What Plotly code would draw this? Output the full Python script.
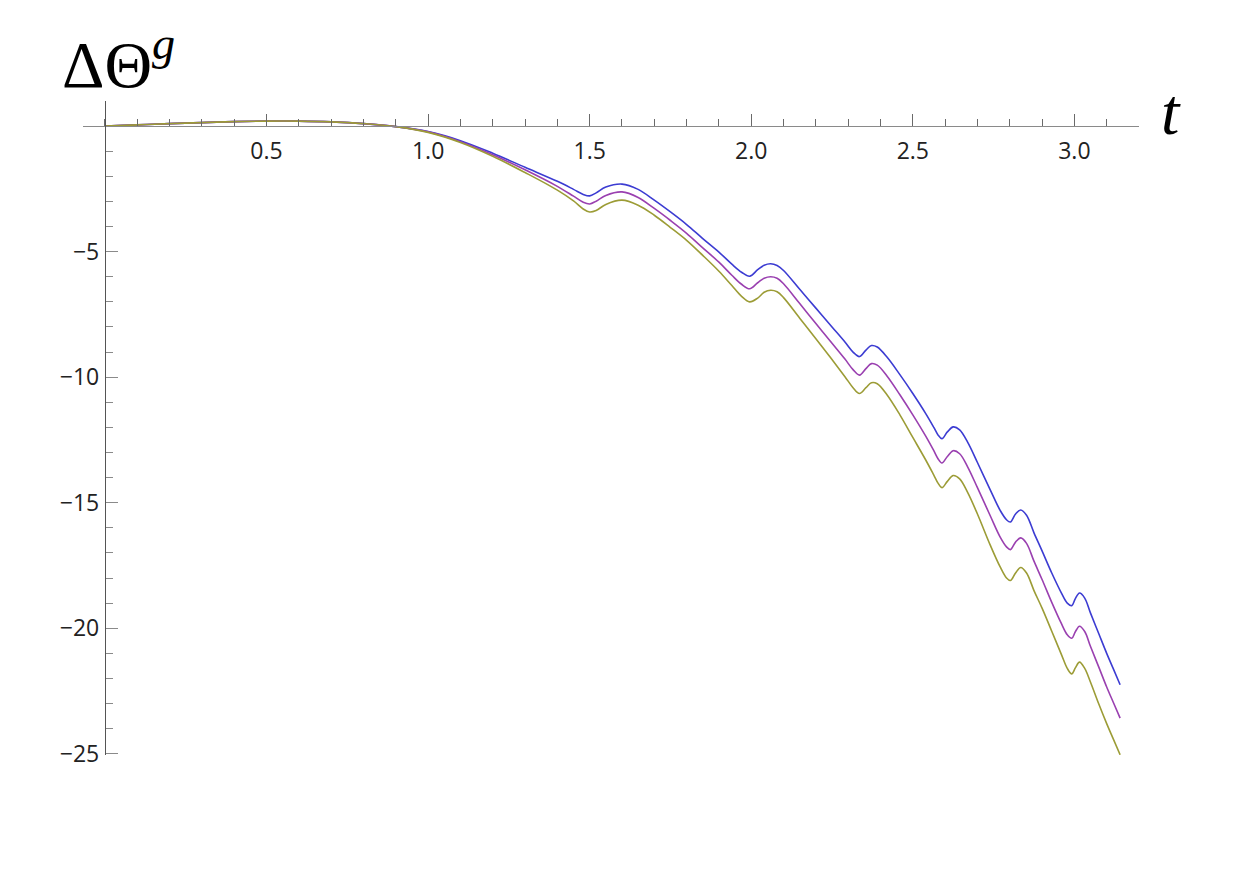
import plotly.graph_objects as go

# sample points (t, Delta Theta^g)
t = [0, 0.1, 0.2, 0.3, 0.4, 0.5, 0.6, 0.7, 0.8, 0.9,
     1.0, 1.1, 1.2, 1.3, 1.4, 1.45, 1.48, 1.5, 1.52, 1.55,
     1.6, 1.65, 1.7, 1.75, 1.8, 1.85, 1.9, 1.94, 1.97, 1.995,
     2.02, 2.04, 2.06, 2.08, 2.1, 2.15, 2.2, 2.25, 2.29, 2.315,
     2.335, 2.355, 2.372, 2.39, 2.42, 2.46, 2.5, 2.54, 2.565, 2.578,
     2.59, 2.607, 2.625, 2.645, 2.67, 2.7, 2.74, 2.77, 2.79, 2.802,
     2.818, 2.834, 2.852, 2.875, 2.9, 2.93, 2.96, 2.978, 2.992, 3.003,
     3.016, 3.032, 3.05, 3.075, 3.1, 3.12, 3.1416]

blue = [0, 0.05, 0.1, 0.14, 0.18, 0.2, 0.2, 0.17, 0.1, -0.02,
        -0.22, -0.58, -1.08, -1.64, -2.2, -2.52, -2.72, -2.78, -2.66, -2.43,
        -2.31, -2.52, -2.95, -3.42, -3.92, -4.48, -5.02, -5.5, -5.82, -5.98,
        -5.72, -5.54, -5.48, -5.55, -5.75, -6.5, -7.25, -8.0, -8.6, -9.0,
        -9.18, -8.92, -8.74, -8.8, -9.2, -9.9, -10.65, -11.45, -12.0, -12.3,
        -12.45, -12.18, -11.98, -12.1, -12.6, -13.4, -14.5, -15.3, -15.68, -15.77,
        -15.45, -15.29, -15.5, -16.2, -16.92, -17.8, -18.6, -19.0, -19.1, -18.82,
        -18.6, -18.8, -19.4, -20.2, -21.0, -21.6, -22.25]

purple = [0, 0.05, 0.1, 0.14, 0.18, 0.2, 0.2, 0.17, 0.1, -0.02,
          -0.23, -0.62, -1.14, -1.74, -2.4, -2.79, -3.03, -3.1, -2.99, -2.76,
          -2.62, -2.84, -3.28, -3.76, -4.27, -4.85, -5.42, -5.94, -6.3, -6.48,
          -6.24, -6.06, -6.0, -6.06, -6.28, -7.07, -7.86, -8.65, -9.28, -9.7,
          -9.92, -9.66, -9.46, -9.52, -9.95, -10.7, -11.5, -12.35, -12.93, -13.25,
          -13.42, -13.16, -12.93, -13.05, -13.58, -14.4, -15.53, -16.36, -16.76, -16.87,
          -16.57, -16.4, -16.62, -17.33, -18.06, -18.97, -19.82, -20.26, -20.4, -20.14,
          -19.92, -20.13, -20.73, -21.53, -22.34, -22.94, -23.58]

olive = [0, 0.05, 0.1, 0.14, 0.18, 0.2, 0.2, 0.17, 0.1, -0.02,
         -0.25, -0.65, -1.2, -1.85, -2.55, -2.98, -3.3, -3.42, -3.36, -3.12,
         -2.95, -3.15, -3.55, -4.04, -4.55, -5.15, -5.78, -6.35, -6.78, -7.0,
         -6.85, -6.62, -6.54, -6.6, -6.83, -7.65, -8.47, -9.3, -9.98, -10.42,
         -10.65, -10.42, -10.22, -10.26, -10.7, -11.5, -12.4, -13.3, -13.9, -14.22,
         -14.4, -14.15, -13.92, -14.05, -14.6, -15.45, -16.7, -17.55, -18.0, -18.1,
         -17.8, -17.58, -17.8, -18.5, -19.2, -20.12, -21.05, -21.6, -21.82, -21.58,
         -21.35, -21.6, -22.15, -23.0, -23.8, -24.4, -25.04]

x_tick_vals = [0.5, 1.0, 1.5, 2.0, 2.5, 3.0]
x_tick_labels = ["0.5", "1.0", "1.5", "2.0", "2.5", "3.0"]
y_tick_vals = [-5, -10, -15, -20, -25]
y_tick_labels = ["\u22125", "\u221210", "\u221215", "\u221220", "\u221225"]

x_range = [-0.068, 3.2]
y_range = [-25.05, 1.0]

fig = go.Figure()
for ys, col in [(blue, "#3c3cd2"), (purple, "#9a40b0"), (olive, "#9c9c36")]:
    fig.add_trace(go.Scatter(x=t, y=ys, mode="lines",
                             line=dict(color=col, width=1.6, shape="spline", smoothing=1.0),
                             showlegend=False, hoverinfo="skip"))

tick_font = dict(family="Open Sans", size=23, color="#222222")
label_font = dict(family="Liberation Serif", size=66, color="black")

fig.update_layout(
    width=1253, height=869,
    margin=dict(l=75, r=122, t=93, b=122),
    paper_bgcolor="white", plot_bgcolor="white",
    xaxis=dict(range=x_range, anchor="free",
               position=(0 - y_range[0]) / (y_range[1] - y_range[0]),
               showgrid=False, zeroline=False, showline=True, linecolor="#8a8a8a", linewidth=1.2,
               tickmode="array", tickvals=x_tick_vals, ticktext=x_tick_labels,
               ticks="inside", ticklen=12, tickcolor="#6a6a6a", tickwidth=1,
               minor=dict(tickmode="linear", tick0=0, dtick=0.1, ticks="inside", ticklen=7,
                          tickcolor="#6a6a6a", tickwidth=1, showgrid=False),
               tickfont=tick_font, ticklabelstandoff=4),
    yaxis=dict(range=y_range, anchor="free",
               position=(0 - x_range[0]) / (x_range[1] - x_range[0]),
               showgrid=False, zeroline=False, showline=True, linecolor="#555555", linewidth=1.2,
               tickmode="array", tickvals=y_tick_vals, ticktext=y_tick_labels,
               ticks="inside", ticklen=12, tickcolor="#8a8a8a", tickwidth=1,
               minor=dict(tickmode="linear", tick0=0, dtick=1, ticks="inside", ticklen=7,
                          tickcolor="#8a8a8a", tickwidth=1, showgrid=False),
               tickfont=tick_font, ticklabelstandoff=1),
    annotations=[
        dict(text="\u0394\u0398<sup><i>g</i></sup>", x=0.034, y=1.064, xref="paper", yref="paper",
             showarrow=False, font=label_font, xanchor="center", yanchor="middle"),
        dict(text="<i>t</i>", x=1.030, y=0.984, xref="paper", yref="paper",
             showarrow=False, font=label_font, xanchor="center", yanchor="middle"),
    ],
)

fig.write_html("out.html")
